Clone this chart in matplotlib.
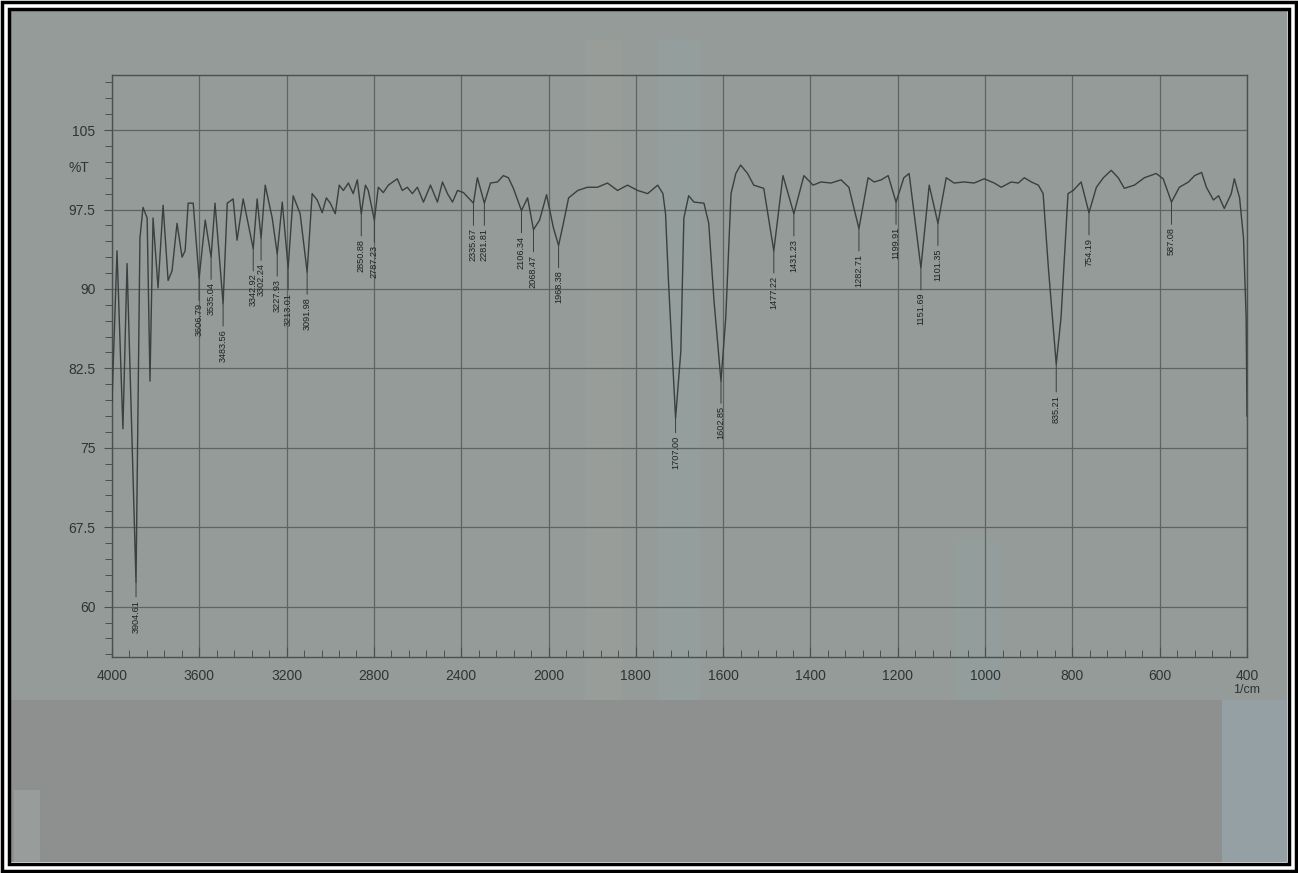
import numpy as np
import matplotlib.pyplot as plt
from matplotlib.patches import Rectangle
from matplotlib.transforms import blended_transform_factory

wn = [4000, 3977, 3950, 3931, 3890, 3872, 3858, 3839, 3826, 3812,
      3789, 3766, 3743, 3725, 3702, 3679, 3665, 3651, 3628, 3601,
      3573, 3546, 3528, 3491, 3472, 3445, 3427, 3399, 3353, 3335,
      3317, 3298, 3266, 3243, 3220, 3193, 3170, 3138, 3106, 3083,
      3060, 3037, 3018, 3000, 2977, 2959, 2940, 2917, 2895, 2876,
      2858, 2839, 2826, 2798, 2780, 2757, 2734, 2693, 2670, 2647,
      2624, 2601, 2573, 2541, 2509, 2486, 2463, 2440, 2417, 2390,
      2344, 2326, 2294, 2266, 2234, 2207, 2184, 2161, 2124, 2096,
      2069, 2041, 2009, 1989, 1977, 1966, 1954, 1933, 1911, 1888,
      1865, 1842, 1819, 1796, 1773, 1750, 1738, 1732, 1725, 1709,
      1697, 1690, 1679, 1667, 1644, 1633, 1621, 1605, 1594, 1582,
      1571, 1560, 1544, 1530, 1507, 1484, 1463, 1438, 1415, 1394,
      1376, 1353, 1330, 1312, 1289, 1268, 1254, 1238, 1222, 1204,
      1186, 1174, 1147, 1128, 1108, 1089, 1071, 1048, 1025, 1002,
      979, 963, 940, 924, 910, 894, 878, 867, 855, 837,
      826, 810, 798, 780, 762, 745, 729, 711, 695, 681,
      658, 635, 608, 592, 573, 555, 534, 520, 504, 493,
      477, 465, 452, 436, 429, 417, 408, 402, 400]
trans = [79.4, 93.6, 76.8, 92.4, 62.3, 94.8, 97.7, 96.7, 81.3, 96.7,
         90.1, 97.9, 90.8, 91.7, 96.2, 93.0, 93.6, 98.1, 98.1, 91.0,
         96.5, 93.0, 98.1, 88.6, 98.1, 98.5, 94.6, 98.5, 93.8, 98.5,
         94.8, 99.8, 96.7, 93.3, 98.2, 92.0, 98.8, 97.1, 91.6, 99.0,
         98.4, 97.2, 98.6, 98.1, 97.1, 99.8, 99.3, 100.0, 99.0, 100.3,
         97.1, 99.8, 99.3, 96.5, 99.6, 99.1, 99.8, 100.4, 99.3, 99.6,
         99.0, 99.6, 98.2, 99.8, 98.2, 100.1, 99.0, 98.2, 99.3, 99.1,
         98.1, 100.5, 98.1, 100.0, 100.1, 100.7, 100.5, 99.5, 97.4, 98.6,
         95.6, 96.5, 98.9, 95.8, 94.1, 96.2, 98.6, 99.3, 99.6, 99.6,
         100.0, 99.3, 99.8, 99.3, 99.0, 99.8, 99.0, 97.1, 90.5, 77.8,
         84.1, 96.7, 98.8, 98.2, 98.1, 96.2, 88.9, 81.3, 87.3, 99.0,
         100.9, 101.7, 100.9, 99.8, 99.5, 93.6, 100.7, 97.1, 100.7, 99.8,
         100.1, 100.0, 100.3, 99.6, 95.7, 100.5, 100.1, 100.3, 100.7, 98.2,
         100.5, 100.9, 92.0, 99.8, 96.2, 100.5, 100.0, 100.1, 100.0, 100.4,
         100.0, 99.6, 100.1, 100.0, 100.5, 100.1, 99.8, 99.0, 92.0, 82.9,
         87.3, 99.0, 99.3, 100.1, 97.2, 99.6, 100.5, 101.2, 100.5, 99.5,
         99.8, 100.5, 100.9, 100.4, 98.2, 99.6, 100.1, 100.7, 101.0, 99.6,
         98.4, 98.8, 97.6, 99.0, 100.4, 98.6, 94.8, 87.3, 78.0]

# Pics annotés
peak_wn = [3890, 3601, 3546, 3491, 3353, 3317, 3243, 3193, 3106, 2858,
           2798, 2344, 2294, 2124, 2069, 1977, 1709, 1605, 1484, 1438,
           1289, 1204, 1147, 1108, 837, 762, 573]
peak_txt = ["3904.61", "3606.79", "3535.04", "3483.56", "3342.92", "3302.24",
            "3227.93", "3213.01", "3091.98", "2850.88", "2787.23", "2335.67",
            "2281.81", "2106.34", "2068.47", "1968.38", "1707.00", "1602.85",
            "1477.22", "1431.23", "1282.71", "1199.91", "1151.69", "1101.35",
            "835.21", "754.19", "587.08"]

xticks = [4000, 3600, 3200, 2800, 2400, 2000, 1800, 1600, 1400, 1200, 1000, 800, 600, 400]
yticks = [60, 67.5, 75, 82.5, 90, 97.5, 105]
ytick_txt = ["60", "67.5", "75", "82.5", "90", "97.5", "105"]


# Échelle en deux parties : x2 en dessous de 2000 1/cm
def fwd(w):
    w = np.asarray(w, dtype=float)
    return np.where(w >= 2000, w, 2 * w - 2000)


def inv(u):
    u = np.asarray(u, dtype=float)
    return np.where(u >= 2000, u, (u + 2000) / 2)


plt.rcParams['font.family'] = ['Liberation Sans', 'DejaVu Sans']
W, H = 1298, 873
fig = plt.figure(figsize=(W / 100, H / 100), dpi=100, facecolor='white')


def px_rect(x0, y0, x1, y1, **kw):
    # rectangle en pixels (origine en haut à gauche)
    r = Rectangle((x0 / W, 1 - y1 / H), (x1 - x0) / W, (y1 - y0) / H,
                  transform=fig.transFigure, zorder=-10, **kw)
    fig.patches.append(r)


# fond du scan
px_rect(11, 11, 1287, 700, facecolor='#949b98', edgecolor='none')
px_rect(11, 700, 1287, 862, facecolor='#8e8f8f', edgecolor='none')
px_rect(14, 790, 40, 862, facecolor='#989c9a', edgecolor='none')
px_rect(1222, 700, 1287, 862, facecolor='#94a0a3', edgecolor='none')
px_rect(585, 40, 622, 700, facecolor='#b4a9ab', edgecolor='none', alpha=0.15)
px_rect(658, 40, 700, 700, facecolor='#8fb3bc', edgecolor='none', alpha=0.15)
px_rect(955, 540, 1000, 700, facecolor='#8fb3bc', edgecolor='none', alpha=0.12)
# double cadre noir
px_rect(2, 2, 1296, 871, facecolor='none', edgecolor='black', linewidth=2.5)
px_rect(9, 9, 1289, 864, facecolor='none', edgecolor='black', linewidth=2.5)

ax = fig.add_axes([112 / W, 1 - 657 / H, (1247 - 112) / W, (657 - 75) / H])
ax.set_facecolor('none')
ax.set_xscale('function', functions=(fwd, inv))

ax.plot(wn, trans, color='#3a3f3f', linewidth=1.0, zorder=3)

ax.set_xlim(4000, 400)
ax.set_ylim(55.25, 110.2)

# Étiquettes des pics
t_at_peak = np.interp(peak_wn, wn[::-1], trans[::-1])
for x, t, txt in zip(peak_wn, t_at_peak, peak_txt):
    off = 18
    if txt in ("3904.61", "1707.00"):
        off = 12.5
    elif txt == "835.21":
        off = 22
    ax.annotate(txt, xy=(x, t), xytext=(0, -off), textcoords='offset points',
                rotation=90, ha='center', va='top', fontsize=6.6, color='#1f2323',
                arrowprops=dict(arrowstyle='-', color='#3a3f3f', lw=0.7,
                                shrinkA=0, shrinkB=0), zorder=4)

# Axes et grille
ax.set_xticks(xticks)
ax.set_xticklabels([str(v) for v in xticks])
minor_x = [v for v in range(4000, 2000, -80) if v not in xticks] + \
          [v for v in range(2000, 399, -40) if v not in xticks]
ax.set_xticks(minor_x, minor=True)
ax.set_yticks(yticks)
ax.set_yticklabels(ytick_txt)
ax.set_yticks(np.arange(55.5, 110.2, 1.5), minor=True)

ax.tick_params(axis='x', which='major', direction='in', length=7, width=0.8,
               color='#4a5050', labelsize=10, labelcolor='#2f3434', pad=9)
ax.tick_params(axis='x', which='minor', direction='in', length=5, width=0.7,
               color='#4a5050')
ax.tick_params(axis='y', which='major', direction='out', length=6, width=0.8,
               color='#4a5050', labelsize=10, labelcolor='#2f3434', pad=6)
ax.tick_params(axis='y', which='minor', direction='out', length=5, width=0.7,
               color='#4a5050')

ax.grid(True, which='major', color='#5d6463', linewidth=0.9)
for s in ax.spines.values():
    s.set_color('#4a5050')
    s.set_linewidth(1.0)

trans_y = blended_transform_factory(ax.transAxes, ax.transData)
ax.text(-0.02, 101.4, '%T', transform=trans_y, ha='right', va='center',
        fontsize=10, color='#2f3434')
ax.annotate('1/cm', xy=(1, 0), xycoords='axes fraction', xytext=(0, -24),
            textcoords='offset points', ha='center', va='center',
            fontsize=9, color='#2f3434')

plt.savefig('out.png', dpi=100, facecolor=fig.get_facecolor())
